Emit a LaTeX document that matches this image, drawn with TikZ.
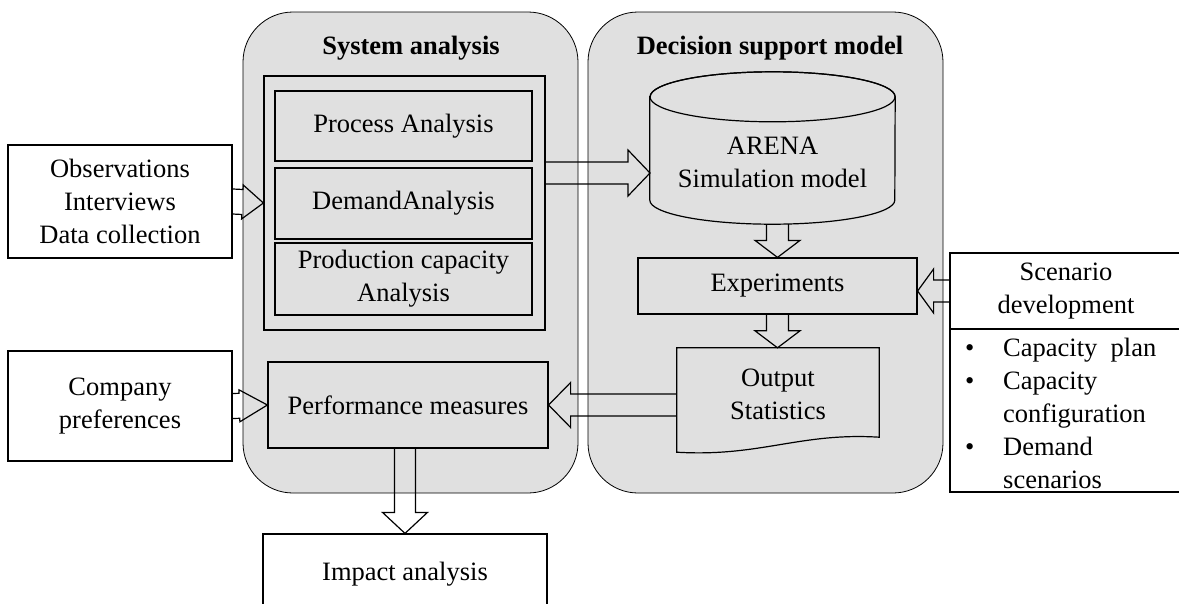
\documentclass[tikz,border=0pt]{standalone}
\usepackage{fontspec}
\setmainfont{Liberation Serif}
\usetikzlibrary{calc}
\definecolor{panelgray}{gray}{0.88}
\tikzset{
  panel/.style={draw, line width=0.8pt, fill=panelgray, rounded corners=50pt},
  graybox/.style={draw, line width=1.2pt, fill=panelgray, align=center},
  whitebox/.style={draw, line width=1.2pt, fill=white, align=center},
  flowline/.style={line width=1.2pt, line join=miter},
}
% hollow block arrow: from, to, shaft half width, head half width, head length
\newcommand{\hollowarrow}[5]{%
  \coordinate (ha-base) at ($(#2)!#5!(#1)$);
  \draw[flowline] ($(#1)!#3!90:(#2)$) -- ($(ha-base)!#3!90:(#2)$) -- ($(ha-base)!#4!90:(#2)$)
    -- (#2) -- ($(ha-base)!#4!-90:(#2)$) -- ($(ha-base)!#3!-90:(#2)$) -- ($(#1)!#3!-90:(#2)$);
}
\begin{document}
\begin{tikzpicture}[x=1pt, y=-1pt, font=\fontsize{26.5}{33}\selectfont]
\useasboundingbox (0,0) rectangle (1179,603);

% the two panels
\node[panel, minimum width=335pt, minimum height=481pt] (sysbox) at (410.5,252.5) {};
\node[panel, minimum width=355pt, minimum height=481pt] (dsmbox) at (765.5,252.5) {};
\node (systitle) at (411,48) {\textbf{System analysis}};
\node (dsmtitle) at (770,48) {\textbf{Decision support model}};

% system analysis
\node[graybox, minimum width=281pt, minimum height=254pt] (inner) at (404.5,203) {};
\node[graybox, minimum width=257pt, minimum height=70pt] (process) at (403.5,126) {Process Analysis};
\node[graybox, minimum width=257pt, minimum height=71pt] (demand) at (403.5,203.5) {DemandAnalysis};
\node[graybox, minimum width=257pt, minimum height=72pt] (production) at (403.5,279) {Production capacity\\Analysis};
\node[graybox, minimum width=280pt, minimum height=86pt] (perf) at (408,405) {Performance measures};

% inputs and outputs
\node[whitebox, minimum width=224pt, minimum height=113pt] (obs) at (120,201.5) {Observations\\Interviews\\Data collection};
\node[whitebox, minimum width=224pt, minimum height=110pt] (company) at (120,406) {Company\\preferences};
\node[whitebox, minimum width=284pt, minimum height=81pt] (impact) at (405,574.5) {Impact analysis};
\node[whitebox, minimum width=232pt, minimum height=76pt] (scen) at (1066,291) {Scenario\\development};
\node[whitebox, minimum width=232pt, minimum height=163pt] (scenlist) at (1066,410.5) {};
\node[anchor=north west, inner sep=0pt] (scenitems) at (965,333) {%
  \begin{tabular}{@{}p{38pt}@{}l@{}}
  \textbullet & Capacity\ \ plan\\
  \textbullet & Capacity\\
              & configuration\\
  \textbullet & Demand\\
              & scenarios
  \end{tabular}};

% decision support model
\node[minimum width=245pt, minimum height=152pt] (arena) at (772.5,148) {};
\draw[flowline, fill=panelgray] ($(arena.north west)+(0,25)$) -- ($(arena.south west)+(0,-24)$)
  arc[start angle=180, end angle=0, x radius=122.5, y radius=24]
  -- ($(arena.north east)+(0,25)$)
  arc[start angle=0, end angle=-180, x radius=122.5, y radius=25] -- cycle;
\draw[flowline] ($(arena.north)+(0,25)$) ellipse [x radius=122.5, y radius=25];
\node[align=center] (arenatext) at (772.5,162) {ARENA\\Simulation model};

\node[graybox, minimum width=279pt, minimum height=56pt] (exp) at (777.5,286) {Experiments};

\node[minimum width=202pt, minimum height=89pt, align=center] (outdoc) at (778,392.5) {};
\draw[flowline, fill=panelgray] (outdoc.north west) -- (outdoc.north east) -- (outdoc.south east)
  .. controls ($(outdoc.south east)+(-79,-5)$) and ($(outdoc.south west)+(83,20)$) .. ($(outdoc.south west)+(0,15)$)
  -- cycle;
\node[align=center] (outtext) at (778,394) {Output\\Statistics};

% connectors
\coordinate (dbin) at (650,173);
\hollowarrow{obs.east}{inner.west}{12.5pt}{17pt}{21pt}
\hollowarrow{company.east}{perf.west}{12.5pt}{16pt}{28pt}
\hollowarrow{inner.east |- dbin}{dbin}{11pt}{23pt}{22pt}
\hollowarrow{arena.south -| exp.north}{exp.north}{11pt}{22.5pt}{17pt}
\hollowarrow{exp.south}{exp.south |- outdoc.north}{11pt}{22.5pt}{17pt}
\hollowarrow{outdoc.west |- perf.east}{perf.east}{11pt}{22.5pt}{22pt}
\hollowarrow{perf.south -| impact.north}{impact.north}{10.5pt}{22.5pt}{21pt}
\hollowarrow{scen.west}{exp.east |- scen.west}{11pt}{22pt}{16pt}
\end{tikzpicture}
\end{document}
